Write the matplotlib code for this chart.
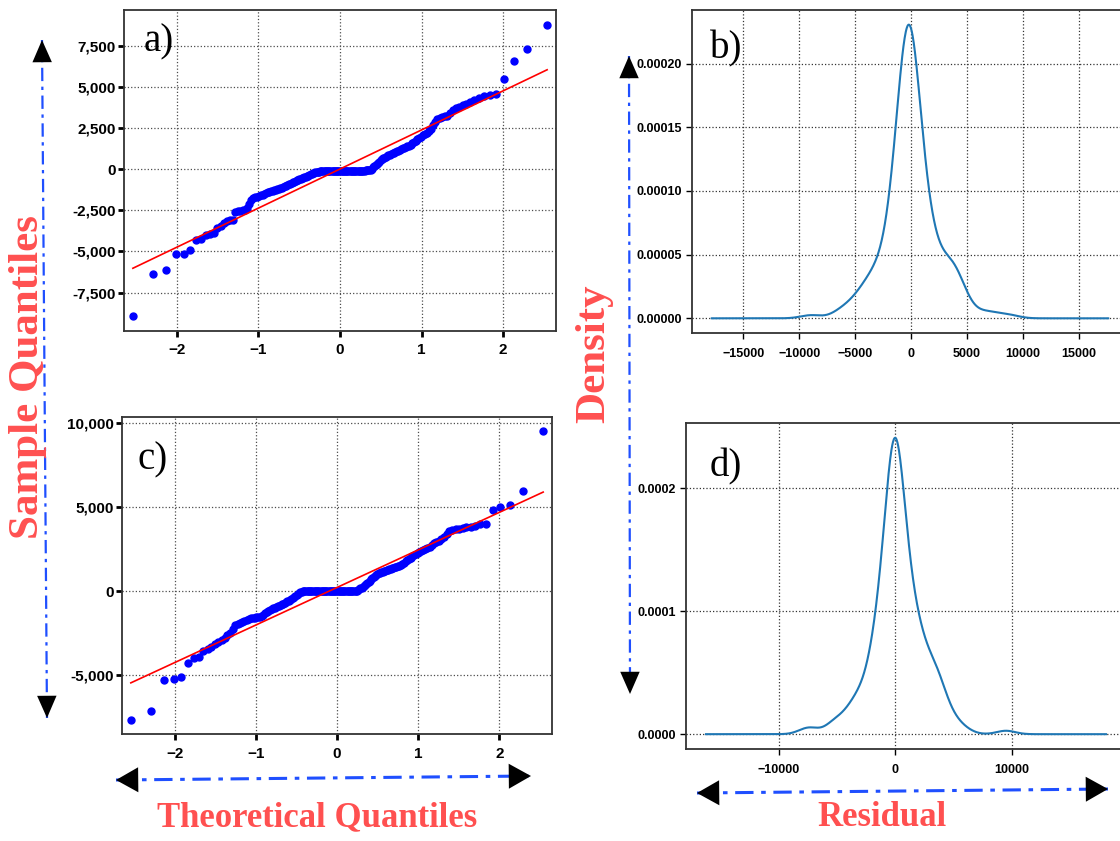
import numpy as np
import matplotlib
matplotlib.use('Agg')
import matplotlib.pyplot as plt
import seaborn as sns
from statistics import NormalDist

plt.rcParams['font.family'] = 'Liberation Sans'

# sorted residuals, model of panels a) / b)
res_a = [
    -8950, -6400, -6130, -5180, -5130, -4940, -4330, -4260, -3980, -3930,
    -3880, -3600, -3450, -3280, -3150, -3120, -3080, -2620, -2560, -2530,
    -2500, -2470, -2380, -2100, -1900, -1780, -1720, -1680, -1640, -1600,
    -1560, -1510, -1450, -1410, -1380, -1350, -1310, -1280, -1250, -1220,
    -1180, -1150, -1120, -1090, -1050, -1010, -960, -920, -880, -840,
    -800, -760, -720, -690, -660, -630, -590, -560, -520, -490,
    -460, -420, -390, -360, -320, -290, -260, -230, -200, -180,
    -160, -150, -140, -130, -120, -120, -120, -120, -120, -120,
    -120, -118, -118, -115, -115, -115, -112, -112, -110, -110,
    -110, -110, -108, -108, -105, -105, -105, -102, -100, -100,
    -100, -100, -98, -98, -95, -95, -92, -90, -90, -88,
    -85, -85, -82, -80, -78, -75, -60, 20, 100, 170,
    250, 330, 400, 460, 530, 590, 650, 700, 740, 790,
    830, 870, 910, 950, 990, 1030, 1070, 1110, 1160, 1210,
    1260, 1300, 1340, 1380, 1430, 1490, 1570, 1650, 1720, 1800,
    1900, 1980, 2060, 2130, 2220, 2300, 2420, 2650, 2880, 3050,
    3120, 3160, 3200, 3250, 3400, 3620, 3740, 3800, 3880, 3960,
    4080, 4200, 4300, 4420, 4500, 4570, 5450, 6580, 7270, 8780,
]

# sorted residuals, model of panels c) / d)
res_c = [
    -7650, -7140, -5280, -5240, -5140, -4300, -4000, -3950, -3560, -3450,
    -3330, -3150, -3050, -2900, -2800, -2620, -2500, -2280, -2000, -1930,
    -1870, -1820, -1760, -1700, -1660, -1620, -1600, -1580, -1560, -1540,
    -1520, -1480, -1400, -1300, -1230, -1170, -1120, -1070, -1020, -980,
    -940, -900, -870, -830, -790, -740, -700, -660, -610, -570,
    -530, -470, -420, -370, -310, -260, -200, -140, -80, -30,
    0, 0, 0, 0, 0, 0, 0, 0, 0, 0,
    0, 0, 0, 0, 0, 0, 0, 0, 0, 0,
    0, 0, 0, 0, 0, 0, 0, 0, 0, 0,
    0, 0, 0, 0, 0, 0, 0, 0, 0, 0,
    0, 0, 0, 0, 0, 0, 0, 30, 70, 120,
    160, 200, 260, 310, 360, 420, 480, 550, 630, 700,
    780, 850, 920, 980, 1030, 1070, 1100, 1130, 1160, 1190,
    1210, 1230, 1260, 1290, 1320, 1350, 1380, 1410, 1440, 1480,
    1520, 1560, 1620, 1690, 1770, 1840, 1920, 2000, 2070, 2140,
    2190, 2250, 2310, 2380, 2440, 2500, 2560, 2640, 2740, 2840,
    2910, 2990, 3090, 3220, 3380, 3560, 3630, 3680, 3710, 3750,
    3790, 3830, 3900, 3980, 4000, 4830, 4990, 5130, 5980, 9510,
]

qq_xticks = [-2, -1, 0, 1, 2]
qq_a_yticks = [-7500, -5000, -2500, 0, 2500, 5000, 7500]
qq_c_yticks = [-5000, 0, 5000, 10000]
kde_b_xticks = [-15000, -10000, -5000, 0, 5000, 10000, 15000]
kde_b_yticks = [0, 0.00005, 0.0001, 0.00015, 0.0002]
kde_d_xticks = [-10000, 0, 10000]
kde_d_yticks = [0, 0.0001, 0.0002]

W, H = 1120, 841
RED = '#ff5050'
BLUE = '#1f4fff'


def box(left, top, right, bottom):
    return [left / W, 1 - bottom / H, (right - left) / W, (bottom - top) / H]


fig = plt.figure(figsize=(11.2, 8.41), dpi=100)
ax_a = fig.add_axes(box(124, 10, 556, 331))
ax_b = fig.add_axes(box(692, 10, 1128, 333))
ax_c = fig.add_axes(box(122, 417, 552, 734))
ax_d = fig.add_axes(box(686, 423, 1126, 749))


def style_spines(ax):
    for sp in ax.spines.values():
        sp.set_color('#333333')
        sp.set_linewidth(1.3)


def qq(ax, res, yticks):
    res = np.sort(np.asarray(res, dtype=float))
    n = len(res)
    nd = NormalDist()
    q = np.array([nd.inv_cdf(i / (n + 1)) for i in range(1, n + 1)])
    ax.plot(q, res, 'o', color='#0000ff', mec='#0000ff', ms=5)
    ax.plot(q, res.mean() + res.std() * q, color='red', lw=1.2)
    ax.set_xlim(-2.65, 2.65)
    ax.set_xticks(qq_xticks, [str(t).replace('-', '\u2212') for t in qq_xticks],
                  fontweight='bold')
    ax.set_yticks(yticks, ['{:,}'.format(t) for t in yticks], fontweight='bold')
    ax.grid(True, ls=':', color='0.3', lw=0.9)
    ax.tick_params(direction='out', length=4, width=2, labelsize=11)
    ax.tick_params(axis='x', pad=5)
    ax.tick_params(axis='y', pad=2)
    style_spines(ax)


def kde(ax, res, xticks, yticks, fmt, bw=1.0):
    res = np.asarray(res, dtype=float)
    span = res.max() - res.min()
    lo, hi = res.min() - 0.5 * span, res.max() + 0.5 * span
    sns.kdeplot(x=res, ax=ax, cut=20, clip=(lo, hi), gridsize=1000,
                bw_adjust=bw, color='#1f77b4', lw=1.5)
    ax.use_sticky_edges = False
    ax.relim()
    ax.autoscale_view()
    ax.set_xlabel('')
    ax.set_ylabel('')
    ax.set_xticks(xticks, [str(t).replace('-', '\u2212') for t in xticks],
                  fontweight='bold')
    ax.set_yticks(yticks, [fmt % t for t in yticks], fontweight='bold')
    ax.grid(True, ls=':', color='0.2', lw=0.9)
    ax.tick_params(direction='out', length=4, width=1, labelsize=9)
    ax.tick_params(axis='x', pad=7)
    ax.tick_params(axis='y', pad=3)
    style_spines(ax)


qq(ax_a, res_a, qq_a_yticks)
qq(ax_c, res_c, qq_c_yticks)
kde(ax_b, res_a, kde_b_xticks, kde_b_yticks, '%.5f', bw=1.08)
kde(ax_d, res_c, kde_d_xticks, kde_d_yticks, '%.4f')


def ftext(x, y, s, **kw):
    fig.text(x / W, 1 - y / H, s, ha='center', va='center', **kw)


# panel tags
for tag, (x, y) in zip(['a)', 'b)', 'c)', 'd)'],
                       [(159, 42), (726, 49), (153, 460), (726, 467)]):
    ftext(x, y, tag, family='Liberation Serif', fontsize=28)

# axis titles
lab = dict(family='Liberation Serif', fontweight='bold', color=RED)
ftext(28, 377, 'Sample Quantiles', rotation=90, fontsize=31, **lab)
ftext(594, 354, 'Density', rotation=90, fontsize=31, **lab)
ftext(317, 818, 'Theoretical Quantiles', fontsize=25, **lab)
ftext(882, 818, 'Residual', fontsize=25, **lab)

# double-headed dash-dot arrows
ov = fig.add_axes([0, 0, 1, 1])
ov.set_xlim(0, W)
ov.set_ylim(H, 0)
ov.axis('off')


def arrow(p0, p1, hw, lw):
    ov.plot([p0[0], p1[0]], [p0[1], p1[1]], color=BLUE, lw=lw,
            dashes=(6, 2.5, 1.5, 2.5))
    ov.annotate('', xy=p1, xytext=p0,
                arrowprops=dict(arrowstyle='<|-|>,head_length=0.8,head_width=%s' % hw,
                                mutation_scale=20, fc='black', ec='none', lw=0,
                                shrinkA=0, shrinkB=0))


arrow((42, 40), (47, 718), 0.35, 1.6)
arrow((629, 56), (630, 694), 0.35, 1.6)
arrow((116, 780), (531, 776), 0.45, 2.2)
arrow((697, 793), (1108, 789), 0.45, 2.2)

fig.savefig('out.png', dpi=100)
